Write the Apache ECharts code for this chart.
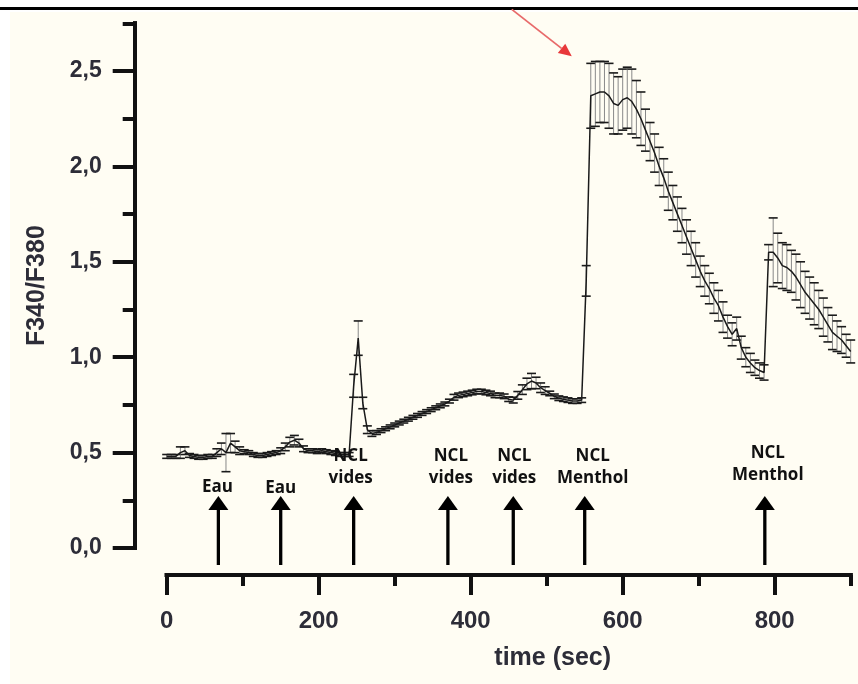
<!DOCTYPE html>
<html><head><meta charset="utf-8">
<script src="https://cdn.jsdelivr.net/npm/echarts@6/dist/echarts.min.js"></script>
<style>html,body{margin:0;padding:0;background:#fff}#c{width:858px;height:684px}</style>
</head><body><div id="c"></div>
<script>
// ---- data ----
const times = [0,6,12,18,24,30,36,42,48,54,60,66,72,78,84,90,96,102,108,114,120,126,132,138,144,150,156,162,168,174,180,186,192,198,204,210,216,222,228,234,240,246,252,258,264,270,276,282,288,294,300,306,312,318,324,330,336,342,348,354,360,366,372,378,384,390,396,402,408,414,420,426,432,438,444,450,456,462,468,474,480,486,492,498,504,510,516,522,528,534,540,546,552,558,564,570,576,582,588,594,600,606,612,618,624,630,636,642,648,654,660,666,672,678,684,690,696,702,708,714,720,726,732,738,744,750,756,762,768,774,780,786,792,798,804,810,816,822,828,834,840,846,852,858,864,870,876,882,888,894,900];
const means = [0.48,0.48,0.48,0.50,0.51,0.485,0.48,0.475,0.475,0.48,0.48,0.50,0.52,0.50,0.55,0.53,0.51,0.505,0.50,0.49,0.485,0.485,0.49,0.495,0.50,0.51,0.53,0.555,0.565,0.55,0.52,0.51,0.51,0.505,0.51,0.505,0.50,0.495,0.49,0.49,0.49,0.85,1.10,0.76,0.62,0.60,0.605,0.615,0.625,0.635,0.645,0.655,0.665,0.675,0.685,0.695,0.705,0.715,0.725,0.735,0.745,0.755,0.77,0.79,0.80,0.805,0.81,0.815,0.82,0.82,0.815,0.81,0.80,0.80,0.795,0.78,0.775,0.80,0.83,0.86,0.875,0.865,0.84,0.825,0.81,0.795,0.785,0.78,0.775,0.77,0.77,0.775,1.40,2.37,2.38,2.39,2.39,2.37,2.33,2.32,2.35,2.36,2.34,2.30,2.25,2.19,2.13,2.07,2.00,1.94,1.87,1.81,1.75,1.69,1.63,1.57,1.51,1.45,1.40,1.36,1.31,1.27,1.21,1.16,1.12,1.15,1.05,1.00,0.97,0.945,0.93,0.92,1.55,1.55,1.52,1.48,1.47,1.45,1.42,1.38,1.34,1.31,1.28,1.25,1.21,1.17,1.13,1.11,1.09,1.06,1.03];
const errs = [0.01,0.01,0.01,0.03,0.02,0.01,0.01,0.01,0.01,0.01,0.01,0.02,0.03,0.10,0.05,0.03,0.02,0.01,0.01,0.01,0.01,0.01,0.01,0.01,0.01,0.015,0.02,0.025,0.025,0.02,0.015,0.01,0.01,0.01,0.01,0.01,0.01,0.01,0.01,0.01,0.01,0.06,0.09,0.03,0.02,0.015,0.01,0.01,0.01,0.01,0.01,0.01,0.01,0.01,0.01,0.01,0.01,0.01,0.01,0.01,0.01,0.01,0.01,0.015,0.012,0.012,0.012,0.012,0.012,0.012,0.012,0.012,0.012,0.012,0.012,0.012,0.015,0.02,0.025,0.03,0.04,0.03,0.025,0.02,0.012,0.012,0.012,0.012,0.012,0.012,0.012,0.012,0.08,0.17,0.17,0.16,0.16,0.17,0.16,0.15,0.16,0.16,0.17,0.15,0.14,0.11,0.10,0.10,0.10,0.10,0.10,0.09,0.09,0.09,0.09,0.09,0.09,0.08,0.08,0.08,0.08,0.08,0.08,0.06,0.06,0.06,0.06,0.05,0.05,0.04,0.04,0.04,0.04,0.18,0.13,0.12,0.12,0.11,0.12,0.12,0.11,0.11,0.11,0.10,0.10,0.09,0.09,0.08,0.07,0.06,0.06,0.05];
const eventTimes = [68,150,246,370,456,550,787];
const eventLabels = ['Eau','Eau','NCL\nvides','NCL\nvides','NCL\nvides','NCL\nMenthol','NCL\nMenthol'];
const xMajorTicks = [0,200,400,600,800];
const xMinorTicks = [100,300,500,700,900];
const yMajorTicks = [0,0.5,1,1.5,2,2.5];
const yMinorTicks = [0.25,0.75,1.25,1.75,2.25,2.75];
const peakMark = [558,2.54];

// ---- layout (pixels) ----
const labelDx = [-1,0,-3,3,1,8,3];
const labelDy = [-61,-60,-81,-81,-81,-81,-84];

const INK = '#111';
const TXT = '#2d2d38';
const FONT = '"Liberation Sans", Arial, sans-serif';

function renderErr(params, api){
  const x = api.value(0), m = api.value(1), e = api.value(2);
  const t = api.coord([x, m+e]), b = api.coord([x, m-e]);
  const hw = 4.5;
  return {type:'group', children:[
    {type:'line', shape:{x1:t[0],y1:t[1],x2:b[0],y2:b[1]}, style:{stroke:'#888', lineWidth:1}},
    {type:'line', shape:{x1:t[0]-hw,y1:t[1],x2:t[0]+hw,y2:t[1]}, style:{stroke:'#1a1a1a', lineWidth:1.6}},
    {type:'line', shape:{x1:b[0]-hw,y1:b[1],x2:b[0]+hw,y2:b[1]}, style:{stroke:'#1a1a1a', lineWidth:1.6}}
  ]};
}
function renderEvent(params, api){
  const i = params.dataIndex;
  const p = api.coord([api.value(0), 0]);
  const x = p[0], y0 = p[1];
  const tipY = y0 - 52, baseY = y0 - 39, endY = y0 + 17;
  return {type:'group', children:[
    {type:'text', z2:1, style:{text:eventLabels[i], x:x+labelDx[i], y:y0+labelDy[i], align:'center', verticalAlign:'middle', font:'bold 17px "Open Sans", sans-serif', fill:'#111', lineHeight:22}},
    {type:'line', z2:2, shape:{x1:x,y1:baseY,x2:x,y2:endY}, style:{stroke:'#000', lineWidth:3.3}},
    {type:'polygon', z2:2, shape:{points:[[x,tipY],[x-10,baseY+1],[x+10,baseY+1]]}, style:{fill:'#000'}}
  ]};
}
function renderPointer(params, api){
  const p = api.coord([api.value(0), api.value(1)]);
  const tip = [p[0]-19, p[1]-7], start = [p[0]-79, p[1]-54];
  const dx = tip[0]-start[0], dy = tip[1]-start[1], L = Math.hypot(dx,dy), ux = dx/L, uy = dy/L;
  const hl = 13, hw = 6;
  const bx = tip[0]-ux*hl, by = tip[1]-uy*hl;
  return {type:'group', children:[
    {type:'line', shape:{x1:start[0],y1:start[1],x2:bx,y2:by}, style:{stroke:'#e86a6a', lineWidth:1.8}},
    {type:'polygon', shape:{points:[tip,[bx-uy*hw,by+ux*hw],[bx+uy*hw,by-ux*hw]]}, style:{fill:'#e8383a'}}
  ]};
}

const chart = echarts.init(document.getElementById('c'), null, {renderer:'canvas', width:858, height:684});
const axisLineStyle = {show:true, onZero:false, lineStyle:{color:INK, width:4, cap:'square'}};
chart.setOption({
  backgroundColor:'#fffdf3',
  animation:false,
  graphic:[
    {type:'rect', silent:true, shape:{x:0,y:0,width:10,height:684}, style:{fill:'#ffffff'}},
    {type:'rect', silent:true, shape:{x:0,y:0,width:858,height:12}, style:{fill:'#ffffff'}},
    {type:'rect', silent:true, shape:{x:0,y:7,width:858,height:3}, style:{fill:'#000000'}}
  ],
  grid:{left:166.7, right:7.3, top:23.3, bottom:136, containLabel:false, outerBoundsMode:'none'},
  xAxis:[
    {type:'value', min:0, max:900, position:'bottom', offset:27, splitLine:{show:false},
     axisLine:axisLineStyle,
     axisTick:{show:true, customValues:xMinorTicks, length:11, lineStyle:{color:INK, width:4}},
     axisLabel:{show:false}},
    {type:'value', min:0, max:900, position:'bottom', offset:27, splitLine:{show:false},
     axisLine:axisLineStyle,
     axisTick:{show:true, customValues:xMajorTicks, length:20, lineStyle:{color:INK, width:4}},
     axisLabel:{show:true, customValues:xMajorTicks, margin:34, color:TXT, fontFamily:FONT, fontWeight:'bold', fontSize:24},
     name:'time (sec)', nameLocation:'middle', nameGap:71,
     nameTextStyle:{color:TXT, fontFamily:FONT, fontWeight:'bold', fontSize:25, padding:[0,0,0,88]}}
  ],
  yAxis:[
    {type:'value', min:0, max:2.75, position:'left', offset:32, splitLine:{show:false},
     axisLine:axisLineStyle,
     axisTick:{show:true, customValues:yMinorTicks, length:12, lineStyle:{color:INK, width:4}},
     axisLabel:{show:false}},
    {type:'value', min:0, max:2.75, position:'left', offset:32, splitLine:{show:false},
     axisLine:axisLineStyle,
     axisTick:{show:true, customValues:yMajorTicks, length:22, lineStyle:{color:INK, width:4}},
     axisLabel:{show:true, customValues:yMajorTicks, margin:33, color:TXT, fontFamily:FONT, fontWeight:'bold', fontSize:23,
       formatter:v=>Number(v).toFixed(1).replace('.',',')},
     name:'F340/F380', nameLocation:'middle', nameRotate:90, nameGap:85,
     nameTextStyle:{color:TXT, fontFamily:FONT, fontWeight:'bold', fontSize:25}}
  ],
  series:[
    {type:'custom', xAxisIndex:1, yAxisIndex:1, renderItem:renderErr, encode:{x:0,y:1}, clip:false, z:2,
     data:times.map((t,i)=>[t, means[i], errs[i]])},
    {type:'line', xAxisIndex:1, yAxisIndex:1, showSymbol:false, symbol:'none', z:3,
     lineStyle:{color:'#1a1a1a', width:1.5}, data:times.map((t,i)=>[t, means[i]])},
    {type:'custom', xAxisIndex:1, yAxisIndex:1, renderItem:renderEvent, encode:{x:0,y:1}, clip:false, z:4,
     data:eventTimes.map(t=>[t,0])},
    {type:'custom', xAxisIndex:1, yAxisIndex:1, renderItem:renderPointer, encode:{x:0,y:1}, clip:false, z:5,
     data:[peakMark]}
  ]
});
</script></body></html>
